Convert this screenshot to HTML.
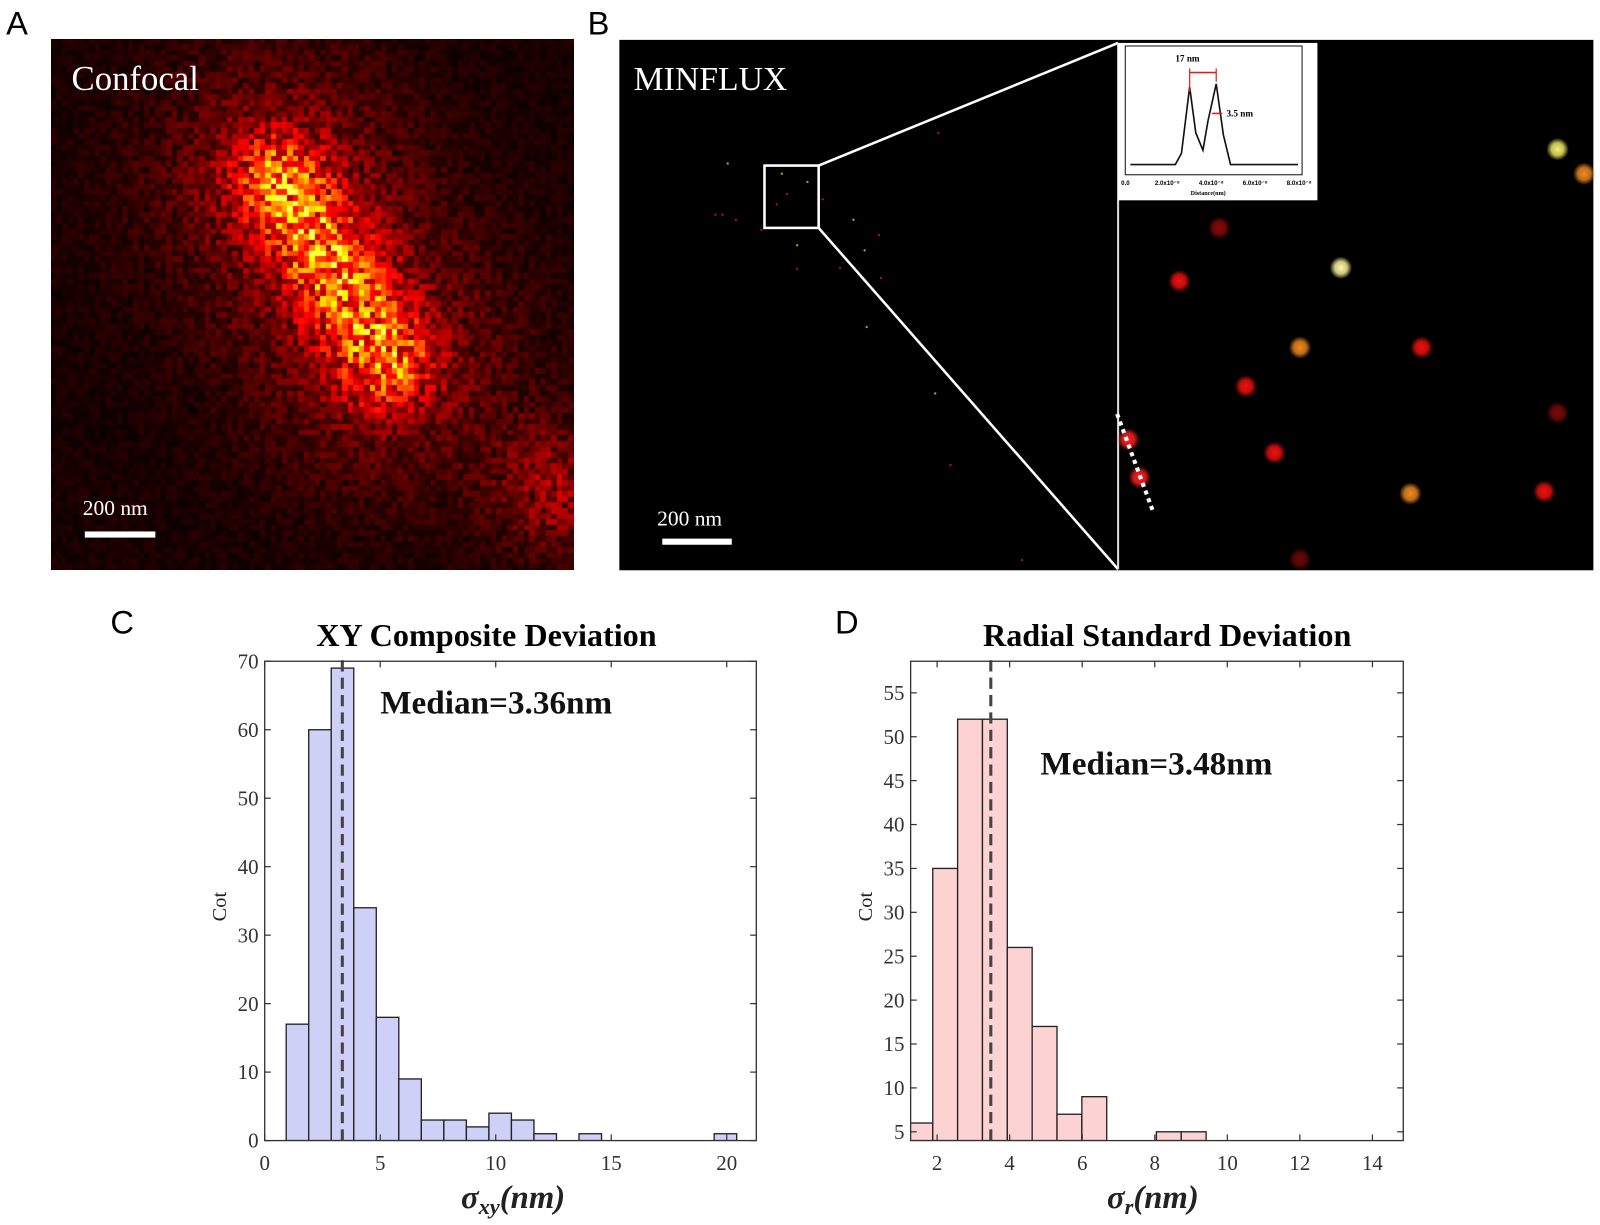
<!DOCTYPE html>
<html><head><meta charset="utf-8">
<style>
html,body{margin:0;padding:0;background:#fff;}
#wrap{position:relative;width:1600px;height:1225px;overflow:hidden;}
svg{position:absolute;left:0;top:0;}
canvas{position:absolute;}
</style></head>
<body>
<div id="wrap">
<canvas id="conf" width="523" height="531" style="left:51px;top:39px;width:523px;height:531px"></canvas>
<svg id="fig" width="1600" height="1225" viewBox="0 0 1565.5 1198.6" preserveAspectRatio="none">
  <g id="panelA">
    <text x="6" y="34" font-family="Liberation Sans, sans-serif" font-size="32" fill="#000">A</text>
    <text x="70" y="88" font-family="Liberation Serif, serif" font-size="34" fill="#fff">Confocal</text>
    <text x="81" y="504" font-family="Liberation Serif, serif" font-size="21" fill="#fff">200 nm</text>
    <rect x="83" y="520" width="69" height="6" fill="#fff"/>
  </g>
  <g id="panelB">
    <text x="575" y="34" font-family="Liberation Sans, sans-serif" font-size="32" fill="#000">B</text>
    <rect x="606" y="39" width="953" height="519" fill="#000"/>
    <text x="620" y="88" font-family="Liberation Serif, serif" font-size="33" fill="#fff">MINFLUX</text>
    <g id="specks"></g>
    <rect x="748" y="162" width="53" height="61" fill="none" stroke="#fff" stroke-width="2.5"/>
    <line x1="801" y1="162" x2="1094" y2="42" stroke="#fff" stroke-width="2.5"/>
    <line x1="801" y1="223" x2="1094" y2="557" stroke="#fff" stroke-width="2.5"/>
    <line x1="1094" y1="42" x2="1094" y2="557" stroke="#ddd" stroke-width="2"/>
    <g id="dots"></g>
    <line x1="1093" y1="405" x2="1128" y2="500" stroke="#fff" stroke-width="4" stroke-dasharray="4,4"/>
    <text x="643" y="514" font-family="Liberation Serif, serif" font-size="21" fill="#fff">200 nm</text>
    <rect x="648" y="527" width="68" height="6" fill="#fff"/>
    <g id="inset">
      <rect x="1094" y="42" width="195" height="154" fill="#fff"/>
      <rect x="1101" y="45" width="173" height="126" fill="none" stroke="#111" stroke-width="1"/>
      <path id="profile" fill="none" stroke="#111" stroke-width="1.6"/>
      <line x1="1164" y1="71" x2="1190" y2="71" stroke="#e02020" stroke-width="1.5"/>
      <line x1="1164" y1="67" x2="1164" y2="90" stroke="#e02020" stroke-width="1.2"/>
      <line x1="1190" y1="67" x2="1190" y2="80" stroke="#e02020" stroke-width="1.2"/>
      <line x1="1186" y1="111" x2="1196" y2="111" stroke="#e02020" stroke-width="1.5"/>
      <text x="1150" y="60" font-family="Liberation Serif, serif" font-size="9" font-weight="bold">17 nm</text>
      <text x="1200" y="114" font-family="Liberation Serif, serif" font-size="9" font-weight="bold">3.5 nm</text>
      <text x="1097" y="181" font-family="Liberation Sans, sans-serif" font-size="6" font-weight="bold">0.0</text>
      <text x="1130" y="181" font-family="Liberation Sans, sans-serif" font-size="6" font-weight="bold">2.0x10⁻⁸</text>
      <text x="1173" y="181" font-family="Liberation Sans, sans-serif" font-size="6" font-weight="bold">4.0x10⁻⁸</text>
      <text x="1216" y="181" font-family="Liberation Sans, sans-serif" font-size="6" font-weight="bold">6.0x10⁻⁸</text>
      <text x="1259" y="181" font-family="Liberation Sans, sans-serif" font-size="6" font-weight="bold">8.0x10⁻⁸</text>
      <text x="1165" y="191" font-family="Liberation Serif, serif" font-size="6" font-weight="bold">Distance(nm)</text>
    </g>
  </g>
  <g id="chartC">
    <text x="108" y="620" font-family="Liberation Sans, sans-serif" font-size="32">C</text>
    <text x="476" y="632" text-anchor="middle" font-family="Liberation Serif, serif" font-size="31.5" font-weight="bold">XY Composite Deviation</text>
  </g>
  <g id="chartD">
    <text x="817" y="620" font-family="Liberation Sans, sans-serif" font-size="32">D</text>
    <text x="1142" y="632" text-anchor="middle" font-family="Liberation Serif, serif" font-size="31.5" font-weight="bold">Radial Standard Deviation</text>
  </g>
</svg>
</div>
<script>
// ---------- Chart data ----------
const cBinStart = 0.93;
const cBinWidth = 0.975;
const cCounts = [17,60,69,34,18,9,3,3,2,4,3,1,0,1,0,0,0,0,0,1];
const cXTicks = [0,5,10,15,20];
const cYTicks = [0,10,20,30,40,50,60,70];
const cMedian = 3.36;

const dBinStart = 1.195;
const dBinWidth = 0.685;
const dCounts = [6,35,52,52,26,17,7,9,0,0,5,5];
const dXTicks = [2,4,6,8,10,12,14];
const dYTicks = [5,10,15,20,25,30,35,40,45,50,55];
const dMedian = 3.48;

const NS = "http://www.w3.org/2000/svg";
function mk(tag, attrs, parent){
  const e = document.createElementNS(NS, tag);
  for (const k in attrs) e.setAttribute(k, attrs[k]);
  parent.appendChild(e);
  return e;
}

function drawHist(g, cfg){
  const {L,R,T,B,xmin,xmax,ymin,ymax,start,width,counts,xticks,yticks,median,fill,medText,medX,medY,xlab,sub,prefix} = cfg;
  const sx = v => L + (v - xmin) / (xmax - xmin) * (R - L);
  const sy = v => B - (v - ymin) / (ymax - ymin) * (B - T);
  const clip = mk('clipPath', {id: prefix + '-clip'}, g);
  mk('rect', {x: L, y: T, width: R - L, height: B - T}, clip);
  const bars = mk('g', {'clip-path': 'url(#' + prefix + '-clip)'}, g);
  
  
  counts.forEach((c, i) => {
    if (c <= 0) return;
    const x0 = sx(start + i * width), x1 = sx(start + (i + 1) * width);
    const r = mk('rect', {x: x0, y: sy(c), width: x1 - x0, height: sy(ymin) - sy(c), fill: fill, stroke: '#222', 'stroke-width': 1.3}, bars);
    
    
  });
  const ml = mk('line', {x1: sx(median), x2: sx(median), y1: B, y2: T - 6, stroke: '#444', 'stroke-width': 3, 'stroke-dasharray': '11,6'}, g);
  
  
  const box = mk('rect', {x: L, y: T, width: R - L, height: B - T, fill: 'none', stroke: '#333', 'stroke-width': 1.3}, g);
  
  
  xticks.forEach(t => {
    const x = sx(t);
    mk('line', {x1: x, x2: x, y1: B, y2: B - 6, stroke: '#333', 'stroke-width': 1.2}, g);
    mk('line', {x1: x, x2: x, y1: T, y2: T + 6, stroke: '#333', 'stroke-width': 1.2}, g);
    const tx = mk('text', {x: x, y: B + 29, 'text-anchor': 'middle', 'font-family': 'Liberation Serif, serif', 'font-size': 20.5, fill: '#333'}, g);
    tx.textContent = t;
    
    
  });
  yticks.forEach(t => {
    const y = sy(t);
    mk('line', {x1: L, x2: L + 6, y1: y, y2: y, stroke: '#333', 'stroke-width': 1.2}, g);
    mk('line', {x1: R, x2: R - 6, y1: y, y2: y, stroke: '#333', 'stroke-width': 1.2}, g);
    const tx = mk('text', {x: L - 6, y: y + 7, 'text-anchor': 'end', 'font-family': 'Liberation Serif, serif', 'font-size': 20.5, fill: '#333'}, g);
    tx.textContent = t;
    
    
  });
  const mt = mk('text', {x: medX, y: medY, 'font-family': 'Liberation Serif, serif', 'font-size': 32.5, 'font-weight': 'bold', fill: '#111'}, g);
  mt.textContent = medText;
  
  
  const yl = mk('text', {x: 0, y: 0, transform: 'translate(' + (L - 38) + ',' + ((T + B) / 2 + 20) + ') rotate(-90)', 'font-family': 'Liberation Serif, serif', 'font-size': 20, fill: '#222'}, g);
  yl.textContent = 'Cot';
  
  
  const xl = mk('text', {x: xlab, y: B + 66, 'text-anchor': 'middle', 'font-family': 'Liberation Serif, serif', 'font-size': 32, 'font-weight': 'bold', 'font-style': 'italic', fill: '#222'}, g);
  
  
  const t1 = mk('tspan', {}, xl); t1.textContent = 'σ';
  const t2 = mk('tspan', {'font-size': 22, dy: 6}, xl); t2.textContent = sub;
  const t3 = mk('tspan', {dy: -6}, xl); t3.textContent = '(nm)';
}

drawHist(document.getElementById('chartC'), {
  L: 259, R: 740, T: 647, B: 1116, xmin: 0, xmax: 21.28, ymin: 0, ymax: 70,
  start: cBinStart, width: cBinWidth, counts: cCounts, xticks: cXTicks, yticks: cYTicks,
  median: cMedian, fill: '#cfd0f8', medText: 'Median=3.36nm', medX: 372, medY: 698,
  xlab: 502, sub: 'xy', prefix: 'hist-c'
});
drawHist(document.getElementById('chartD'), {
  L: 891, R: 1373, T: 647, B: 1116, xmin: 1.27, xmax: 14.85, ymin: 4.0, ymax: 58.6,
  start: dBinStart, width: dBinWidth, counts: dCounts, xticks: dXTicks, yticks: dYTicks,
  median: dMedian, fill: '#fdd2d3', medText: 'Median=3.48nm', medX: 1018, medY: 758,
  xlab: 1128, sub: 'r', prefix: 'hist-d'
});

// ---------- Inset profile (image decoration) ----------
const profX = [1106,1150,1156,1164,1170,1177,1182,1190,1197,1204,1270];
const profY = [161,161,150,85,130,147,118,82,132,161,161];
(function(){
  let d = '';
  profX.forEach((x,i) => { d += (i ? 'L' : 'M') + x + ' ' + profY[i] + ' '; });
  document.getElementById('profile').setAttribute('d', d);
})();

// ---------- Zoomed molecules ----------
const dotX = [1524,1550,1193,1154,1312,1272,1391,1219,1524,1247,1380,1511,1272,1104,1115];
const dotY = [146,170,223,275,262,340,340,378,404,443,483,481,547,430,467];
const dotC = ['#f4f06a','#f08a20','#8a0a0a','#f01010','#fff8a0','#f08a20','#f01010','#f01010','#7a0a0a','#f01010','#f08a20','#f01010','#6a0808','#ff2020','#ff2020'];
(function(){
  const g = document.getElementById('dots');
  const defs = mk('defs', {}, g);
  dotX.forEach((x,i) => {
    const rg = mk('radialGradient', {id: 'dg' + i}, defs);
    mk('stop', {offset: '0%', 'stop-color': dotC[i], 'stop-opacity': 1}, rg);
    mk('stop', {offset: '55%', 'stop-color': dotC[i], 'stop-opacity': 0.8}, rg);
    mk('stop', {offset: '100%', 'stop-color': dotC[i], 'stop-opacity': 0}, rg);
    const c = mk('circle', {cx: x, cy: dotY[i], r: 11, fill: 'url(#dg' + i + ')'}, g);
    
    
  });
  const sp = document.getElementById('specks');
  const spX = [712,720,770,790,760,805,835,707,745,780,822,862,848,700,918,846,930,1000,915,780,860,765];
  const spY = [160,215,190,178,200,195,215,210,225,240,262,272,320,210,130,245,455,548,385,263,230,170];
  spX.forEach((x,i) => {
    const c = mk('circle', {cx: x, cy: spY[i], r: 1.2, fill: i % 3 ? '#a01808' : '#b09030'}, sp);
    
    
  });
})();

// ---------- Confocal texture ----------
(function(){
  const cv = document.getElementById('conf');
  const ctx = cv.getContext('2d');
  const W = 523, H = 531, N = 95, cw = W / N, ch = H / N;
  let s = 12345;
  const rnd = () => { s = (s * 1103515245 + 12345) & 0x7fffffff; return s / 0x7fffffff; };
  function hot(v){
    v = Math.max(0, Math.min(1, v));
    const r = Math.min(1, v * 2.3), g = Math.max(0, Math.min(1, (v - 0.45) * 2.1)), b = Math.max(0, (v - 0.92) * 4);
    return 'rgb(' + (r*255|0) + ',' + (g*255|0) + ',' + (b*255|0) + ')';
  }
  ctx.fillStyle = '#000'; ctx.fillRect(0,0,W,H);
  for (let j = 0; j < N; j++) for (let i = 0; i < N; i++){
    const u = (i + 0.5) / N, v = (j + 0.5) / N;
    const ax = 0.44, ay = 0.27, bx = 0.64, by = 0.6;
    const dx = bx - ax, dy = by - ay, L2 = dx*dx + dy*dy;
    let t = ((u-ax)*dx + (v-ay)*dy) / L2; t = Math.max(0, Math.min(1, t));
    const px = ax + t*dx, py = ay + t*dy;
    const d2 = (u-px)*(u-px) + (v-py)*(v-py);
    let val = 0.55 * Math.exp(-d2 / (2*0.06*0.06)) + 0.22 * Math.exp(-d2 / (2*0.17*0.17));
    const e2 = (u-0.97)*(u-0.97) + (v-0.85)*(v-0.85);
    val += 0.22 * Math.exp(-e2 / (2*0.09*0.09));
    val += 0.05;
    val *= 0.35 + 1.0 * rnd();
    ctx.fillStyle = hot(val);
    ctx.fillRect(Math.floor(i*cw), Math.floor(j*ch), Math.ceil(cw)+1, Math.ceil(ch)+1);
  }
})();
</script>
</body></html>
